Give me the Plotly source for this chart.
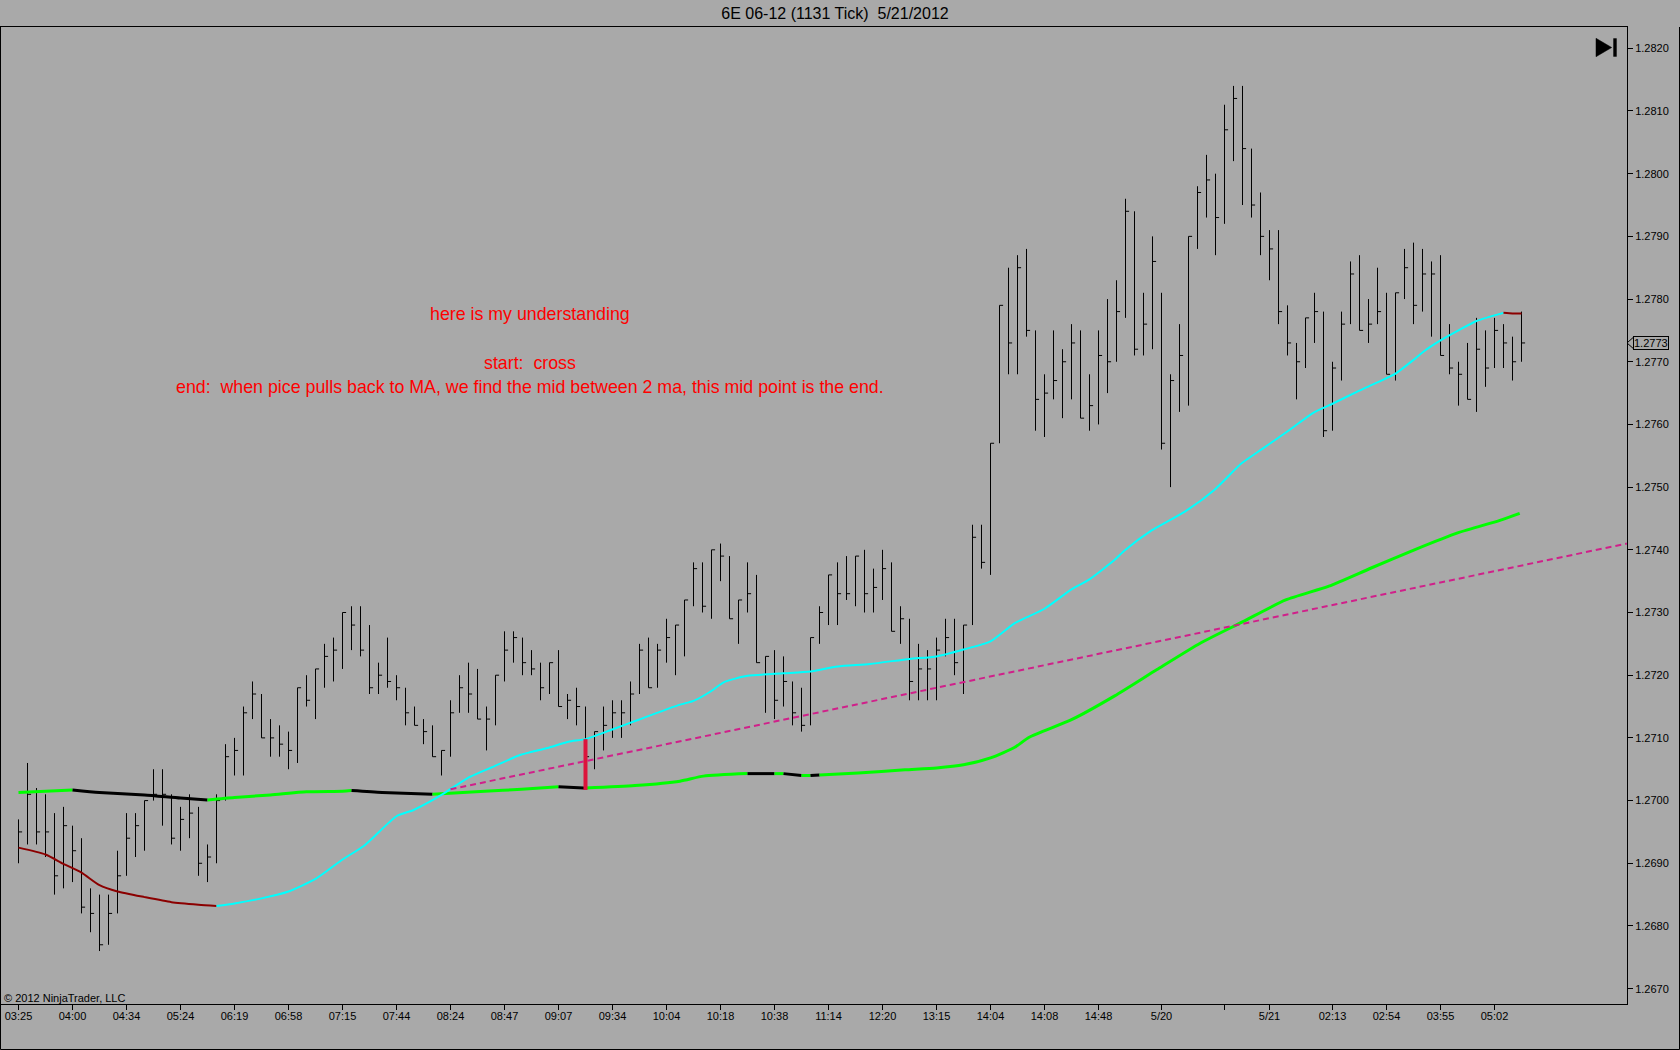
import plotly.graph_objects as go

# ---------------- data ----------------
bar_high = [1.2697, 1.2706, 1.2702, 1.2701, 1.2698, 1.2699, 1.2696, 1.2694, 1.2686, 1.2685,
            1.2685, 1.2692, 1.2698, 1.2698, 1.2700, 1.2705, 1.2705, 1.2701, 1.2699, 1.2701,
            1.2699, 1.2693, 1.2701, 1.2709, 1.2710, 1.2715, 1.2719, 1.2717, 1.2713, 1.2712,
            1.2711, 1.2718, 1.2720, 1.2721, 1.2725, 1.2726, 1.2730, 1.2731, 1.2731, 1.2728,
            1.2722, 1.2726, 1.2720, 1.2718, 1.2715, 1.2713, 1.2712, 1.2708, 1.2716, 1.2720,
            1.2722, 1.2721, 1.2715, 1.2720, 1.2727, 1.2727, 1.2726, 1.2724, 1.2722, 1.2722,
            1.2724, 1.2717, 1.2718, 1.2715, 1.2711, 1.2715, 1.2716, 1.2716, 1.2719, 1.2725,
            1.2726, 1.2725, 1.2729, 1.2728, 1.2732, 1.2738, 1.2738, 1.2740, 1.2741, 1.2739,
            1.2732, 1.2738, 1.2736, 1.2723, 1.2724, 1.2723, 1.2719, 1.2718, 1.2726, 1.2731,
            1.2736, 1.2738, 1.2739, 1.2739, 1.2740, 1.2737, 1.2740, 1.2738, 1.2731, 1.2729,
            1.2725, 1.2724, 1.2726, 1.2729, 1.2729, 1.2728, 1.2744, 1.2744, 1.2757, 1.2779,
            1.2785, 1.2787, 1.2788, 1.2775, 1.2768, 1.2775, 1.2772, 1.2776, 1.2775, 1.2768,
            1.2775, 1.2780, 1.2783, 1.2796, 1.2794, 1.2781, 1.2790, 1.2781, 1.2768, 1.2776,
            1.2790, 1.2798, 1.2803, 1.2800, 1.2811, 1.2814, 1.2814, 1.2804, 1.2797, 1.2791,
            1.2791, 1.2779, 1.2773, 1.2777, 1.2781, 1.2778, 1.2770, 1.2778, 1.2786, 1.2787,
            1.2780, 1.2785, 1.2781, 1.2781, 1.2788, 1.2789, 1.2788, 1.2786, 1.2787, 1.2776,
            1.2770, 1.2773, 1.2777, 1.2775, 1.2777, 1.2776, 1.2774, 1.2778]

bar_low = [1.2690, 1.2693, 1.2693, 1.2691, 1.2685, 1.2686, 1.2687, 1.2682, 1.2679, 1.2676,
           1.2677, 1.2682, 1.2688, 1.2691, 1.2692, 1.2700, 1.2696, 1.2693, 1.2692, 1.2694,
           1.2688, 1.2687, 1.2690, 1.2700, 1.2704, 1.2704, 1.2713, 1.2710, 1.2707, 1.2707,
           1.2705, 1.2706, 1.2715, 1.2713, 1.2718, 1.2719, 1.2721, 1.2724, 1.2723, 1.2717,
           1.2717, 1.2718, 1.2716, 1.2712, 1.2712, 1.2709, 1.2707, 1.2704, 1.2707, 1.2714,
           1.2714, 1.2713, 1.2708, 1.2712, 1.2719, 1.2722, 1.2720, 1.2720, 1.2716, 1.2717,
           1.2715, 1.2713, 1.2712, 1.2707, 1.2705, 1.2708, 1.2710, 1.2710, 1.2712, 1.2717,
           1.2718, 1.2718, 1.2722, 1.2720, 1.2723, 1.2731, 1.2730, 1.2729, 1.2735, 1.2729,
           1.2725, 1.2730, 1.2722, 1.2714, 1.2713, 1.2715, 1.2712, 1.2711, 1.2712, 1.2725,
           1.2728, 1.2728, 1.2732, 1.2731, 1.2730, 1.2730, 1.2732, 1.2727, 1.2725, 1.2716,
           1.2716, 1.2716, 1.2716, 1.2723, 1.2720, 1.2717, 1.2728, 1.2737, 1.2736, 1.2757,
           1.2768, 1.2768, 1.2774, 1.2759, 1.2758, 1.2764, 1.2761, 1.2764, 1.2761, 1.2759,
           1.2760, 1.2765, 1.2770, 1.2777, 1.2771, 1.2771, 1.2772, 1.2756, 1.2750, 1.2762,
           1.2763, 1.2788, 1.2793, 1.2787, 1.2792, 1.2802, 1.2795, 1.2793, 1.2787, 1.2783,
           1.2776, 1.2771, 1.2764, 1.2769, 1.2773, 1.2758, 1.2759, 1.2767, 1.2776, 1.2775,
           1.2773, 1.2776, 1.2768, 1.2767, 1.2780, 1.2776, 1.2778, 1.2774, 1.2771, 1.2768,
           1.2763, 1.2764, 1.2762, 1.2766, 1.2769, 1.2769, 1.2767, 1.2770]

bar_close = [1.2695, 1.2701, 1.2695, 1.2695, 1.2688, 1.2696, 1.2692, 1.2683, 1.2682, 1.2677,
             1.2682, 1.2688, 1.2694, 1.2696, 1.2700, 1.2701, 1.2701, 1.2694, 1.2697, 1.2698,
             1.2690, 1.2691, 1.2700, 1.2707, 1.2708, 1.2714, 1.2717, 1.2710, 1.2710, 1.2709,
             1.2708, 1.2718, 1.2716, 1.2721, 1.2723, 1.2724, 1.2730, 1.2728, 1.2724, 1.2718,
             1.2720, 1.2719, 1.2718, 1.2714, 1.2712, 1.2711, 1.2707, 1.2708, 1.2714, 1.2718,
             1.2717, 1.2713, 1.2713, 1.2720, 1.2724, 1.2726, 1.2722, 1.2721, 1.2718, 1.2722,
             1.2715, 1.2716, 1.2715, 1.2707, 1.2711, 1.2712, 1.2714, 1.2714, 1.2717, 1.2724,
             1.2718, 1.2724, 1.2726, 1.2728, 1.2732, 1.2737, 1.2731, 1.2740, 1.2739, 1.2729,
             1.2732, 1.2733, 1.2722, 1.2723, 1.2716, 1.2719, 1.2714, 1.2712, 1.2726, 1.2730,
             1.2736, 1.2733, 1.2733, 1.2739, 1.2733, 1.2734, 1.2737, 1.2727, 1.2729, 1.2719,
             1.2721, 1.2721, 1.2724, 1.2726, 1.2722, 1.2728, 1.2742, 1.2738, 1.2757, 1.2779,
             1.2773, 1.2785, 1.2775, 1.2764, 1.2765, 1.2767, 1.2770, 1.2773, 1.2761, 1.2763,
             1.2771, 1.2770, 1.2778, 1.2794, 1.2772, 1.2776, 1.2786, 1.2757, 1.2767, 1.2771,
             1.2790, 1.2797, 1.2799, 1.2793, 1.2807, 1.2812, 1.2804, 1.2795, 1.2790, 1.2788,
             1.2778, 1.2773, 1.2770, 1.2777, 1.2778, 1.2759, 1.2769, 1.2776, 1.2784, 1.2775,
             1.2776, 1.2778, 1.2768, 1.2781, 1.2785, 1.2779, 1.2784, 1.2784, 1.2771, 1.2769,
             1.2768, 1.2764, 1.2772, 1.2769, 1.2775, 1.2773, 1.2770, 1.2773]

# fast moving average, sampled along the line (bar index, price)
fast_ma_x = [0, 3, 5, 7, 9, 11, 14, 17, 20, 22, 24, 27, 30, 33, 36, 38.4, 42, 43.9, 47, 49.9,
             52.9, 55.8, 58.8, 61.1, 63, 65.9, 68.9, 73.5, 75, 76.9, 78.4, 81, 85, 88, 91,
             94.6, 99, 102, 105, 108, 110.7, 114, 117, 118.9, 121.8, 122.9, 125.9, 129.6,
             132.9, 135.9, 138.2, 141.1, 143.9, 146, 148.7, 151, 153, 155, 156.1, 158, 160,
             162, 165, 166, 167]
fast_ma_y = [1.26925, 1.26914, 1.26899, 1.26885, 1.26865, 1.26855, 1.26846, 1.26838, 1.26834,
             1.26832, 1.26836, 1.26844, 1.26855, 1.26875, 1.26906, 1.26928, 1.26975, 1.26985,
             1.27009, 1.27036, 1.27055, 1.27073, 1.27084, 1.27094, 1.27098, 1.27113, 1.27129,
             1.27153, 1.27159, 1.27174, 1.27189, 1.27199, 1.27203, 1.27206, 1.27214, 1.27218,
             1.27226, 1.27230, 1.27241, 1.27254, 1.27283, 1.27306, 1.27337, 1.27352, 1.27384,
             1.27399, 1.27431, 1.27461, 1.27496, 1.27538, 1.27561, 1.27590, 1.27619, 1.27633,
             1.27652, 1.27667, 1.27681, 1.27703, 1.27716, 1.27734, 1.27750, 1.27765, 1.27778,
             1.27777, 1.27777]
fast_ma_segments = [(0, 22, "down"), (22, 165, "up"), (165, 167, "down")]

# slow moving average, sampled along the line
slow_ma_x = [0, 6, 9, 14, 18, 21, 24, 28, 32, 36, 37, 40.4, 46, 51.8, 55.9, 60, 62.8, 63,
             68.5, 73.5, 76.1, 81, 84, 85, 87, 88, 89, 93.3, 98.5, 102, 105, 108, 110.7,
             112.3, 117, 121.8, 126.5, 131.3, 136, 140.8, 145.6, 150.3, 155.1, 159.9, 164.6,
             166.8]
slow_ma_y = [1.27013, 1.27017, 1.27013, 1.27009, 1.27004, 1.27001, 1.27005, 1.27009, 1.27014,
             1.27015, 1.27016, 1.27013, 1.27010, 1.27015, 1.27018, 1.27022, 1.27020, 1.27020,
             1.27024, 1.27031, 1.27039, 1.27043, 1.27043, 1.27043, 1.27040, 1.27040, 1.27041,
             1.27044, 1.27049, 1.27052, 1.27057, 1.27068, 1.27085, 1.27101, 1.27129, 1.27167,
             1.27209, 1.27251, 1.27285, 1.27320, 1.27342, 1.27371, 1.27400, 1.27427, 1.27447,
             1.27458]
slow_ma_segments = [(0, 6, "up"), (6, 21, "down"), (21, 37, "up"), (37, 46, "down"),
                    (46, 60, "up"), (60, 63, "down"), (63, 81, "up"), (81, 84, "down"),
                    (84, 85, "up"), (85, 87, "down"), (87, 88, "up"), (88, 89, "down"),
                    (89, 166.8, "up")]

# drawn trend ray (two anchor points) and the marked pull-back
trend_x = [48, 178.7]
trend_y = [1.27018, 1.27410]
pullback_x = [63, 63]
pullback_y = [1.27017, 1.27098]

last_price = 1.2773

x_tickvals = [0, 6, 12, 18, 24, 30, 36, 42, 48, 54, 60, 66, 72, 78, 84, 90, 96, 102, 108,
              114, 120, 127, 134, 139, 146, 152, 158, 164]
x_ticktext = ["03:25", "04:00", "04:34", "05:24", "06:19", "06:58", "07:15", "07:44", "08:24",
              "08:47", "09:07", "09:34", "10:04", "10:18", "10:38", "11:14", "12:20", "13:15",
              "14:04", "14:08", "14:48", "5/20", "", "5/21", "02:13", "02:54", "03:55", "05:02"]
y_tickvals = [1.2670 + 0.001 * k for k in range(16)]

title_text = "6E 06-12 (1131 Tick) \u00a05/21/2012"
note_lines = ["here is my understanding",
              "start: \u00a0cross",
              "end: \u00a0when pice pulls back to MA, we find the mid between 2 ma, this mid point is the end."]
copyright_text = "\u00a9 2012 NinjaTrader, LLC"

# ---------------- layout geometry ----------------
W, H = 1680, 1050
ML, MR, MT, MB = 1, 53, 27, 46
PW, PH = W - ML - MR, H - MT - MB
PX_PER_BAR = 9.0
FIRST_BAR_PX = 18.5
X0 = -(FIRST_BAR_PX - ML) / PX_PER_BAR
X1 = X0 + PW / PX_PER_BAR
PX_PER_PRICE = 62690.0
Y1 = 1.2820 + (48.3 - MT) / PX_PER_PRICE
Y0 = Y1 - PH / PX_PER_PRICE
BG = "#A9A9A9"
FONT = "Liberation Sans, Arial, sans-serif"


def px(xp):
    return (xp - ML) / PW


def py(yp):
    return (H - MB - yp) / PH


fig = go.Figure()

# HLC bars (vertical range + close tick on the right)
bx, by = [], []
for i, (h, l, c) in enumerate(zip(bar_high, bar_low, bar_close)):
    bx += [i, i, None, i, i + 0.4, None]
    by += [l, h, None, c, c, None]
fig.add_trace(go.Scatter(x=bx, y=by, mode="lines", line=dict(color="black", width=1),
                         hoverinfo="skip"))


def add_segments(xs, ys, segments, colors, width):
    for a, b, kind in segments:
        sx = [x for x in xs if a <= x <= b]
        sy = [y for x, y in zip(xs, ys) if a <= x <= b]
        fig.add_trace(go.Scatter(x=sx, y=sy, mode="lines",
                                 line=dict(color=colors[kind], width=width, shape="spline",
                                           smoothing=0.6),
                                 hoverinfo="skip"))


add_segments(slow_ma_x, slow_ma_y, slow_ma_segments, {"up": "#00FF00", "down": "#000000"}, 3)
add_segments(fast_ma_x, fast_ma_y, fast_ma_segments, {"up": "#00FFFF", "down": "#8B0000"}, 2)

fig.add_trace(go.Scatter(x=trend_x, y=trend_y, mode="lines",
                         line=dict(color="#D0208A", width=2, dash="6px,4px"), hoverinfo="skip"))
fig.add_trace(go.Scatter(x=pullback_x, y=pullback_y, mode="lines",
                         line=dict(color="#DC143C", width=4), hoverinfo="skip"))

annotations = []
note_y = [314, 363.2, 386.8]
for txt, yp in zip(note_lines, note_y):
    annotations.append(dict(text=txt, xref="paper", yref="paper", x=px(530), y=py(yp),
                            xanchor="center", yanchor="middle", showarrow=False,
                            font=dict(family=FONT, size=17.8, color="#FF0000")))
annotations.append(dict(text=copyright_text, xref="paper", yref="paper", x=px(2), y=py(997.5),
                        xanchor="left", yanchor="middle", showarrow=False,
                        font=dict(family=FONT, size=11, color="black")))
annotations.append(dict(text=f"{last_price:.4f}", xref="paper", yref="y",
                        x=px(1651), y=last_price, xanchor="center", yanchor="middle",
                        showarrow=False, bordercolor="black", borderwidth=1, borderpad=0,
                        bgcolor=BG, font=dict(family=FONT, size=11, color="black")))

shapes = [
    # pointed left end of the last-price marker
    dict(type="path", xref="paper", yref="y",
         path=f"M {px(1633)} {last_price + 0.000085} L {px(1627)} {last_price} L {px(1633)} {last_price - 0.000085}",
         line=dict(color="black", width=1)),
    # "go to end" icon
    dict(type="path", xref="paper", yref="paper",
         path=f"M {px(1596)} {py(38.3)} L {px(1611.7)} {py(47.5)} L {px(1596)} {py(56.7)} Z",
         fillcolor="black", line=dict(color="black", width=0.5)),
    dict(type="rect", xref="paper", yref="paper", x0=px(1613.3), x1=px(1616.7),
         y0=py(56.7), y1=py(38.3), fillcolor="black", line=dict(color="black", width=0)),
    # outer frame
    dict(type="line", xref="paper", yref="paper", x0=px(0.5), x1=px(0.5), y0=py(27), y1=py(1049.5),
         line=dict(color="black", width=1)),
    dict(type="line", xref="paper", yref="paper", x0=px(0.5), x1=px(1679.5), y0=py(1049.5),
         y1=py(1049.5), line=dict(color="black", width=1)),
    dict(type="line", xref="paper", yref="paper", x0=px(1679.5), x1=px(1679.5), y0=py(27),
         y1=py(1049.5), line=dict(color="black", width=1)),
]

fig.update_layout(
    width=W, height=H,
    margin=dict(l=ML, r=MR, t=MT, b=MB, pad=0),
    paper_bgcolor=BG, plot_bgcolor=BG,
    showlegend=False,
    font=dict(family=FONT, size=11, color="black"),
    title=dict(text=title_text, x=835 / W, xref="container", xanchor="center",
               y=1 - 13 / H, yref="container", yanchor="middle",
               font=dict(family=FONT, size=16, color="black")),
    annotations=annotations,
    shapes=shapes,
)
fig.update_xaxes(range=[X0, X1], tickmode="array", tickvals=x_tickvals, ticktext=x_ticktext,
                 ticks="outside", ticklen=5, tickwidth=1, tickcolor="black",
                 ticklabelstandoff=-3,
                 showgrid=False, zeroline=False, showline=True, linecolor="black",
                 linewidth=1, mirror=True, tickfont=dict(family=FONT, size=11, color="black"))
fig.update_yaxes(side="right", range=[Y0, Y1], tickmode="array", tickvals=y_tickvals,
                 tickformat=".4f", ticks="outside", ticklen=5, tickwidth=1, tickcolor="black",
                 showgrid=False, zeroline=False, showline=True, linecolor="black",
                 linewidth=1, mirror=True, tickfont=dict(family=FONT, size=11, color="black"))

fig.write_html("out.html", config={"displayModeBar": False, "staticPlot": True},
               post_script="document.body.style.margin='0';document.body.style.overflow='hidden';")
